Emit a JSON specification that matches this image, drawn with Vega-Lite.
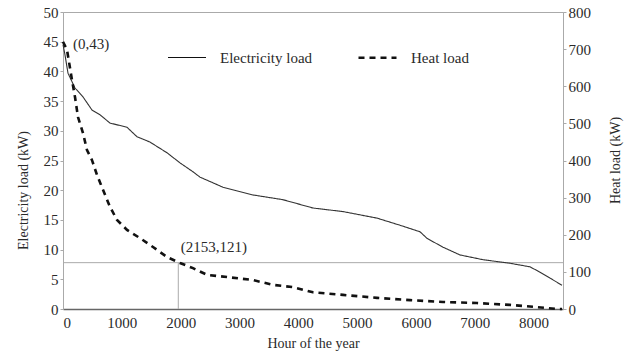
{
  "$schema": "https://vega.github.io/schema/vega-lite/v6.json",
  "width": 500,
  "height": 297,
  "autosize": {"type": "none"},
  "padding": {"left": 63, "top": 12, "right": 67, "bottom": 47},
  "background": "white",
  "config": {
    "font": "Liberation Serif",
    "view": {"stroke": "#aaa", "strokeWidth": 1},
    "axis": {
      "grid": false,
      "labelFont": "Liberation Serif",
      "titleFont": "Liberation Serif",
      "labelFontSize": 15,
      "titleFontSize": 14,
      "titleFontWeight": "normal",
      "labelColor": "#2a2a2a",
      "titleColor": "#2a2a2a",
      "domainColor": "#aaa",
      "tickColor": "#aaa",
      "tickSize": 3
    },
    "legend": {
      "labelFont": "Liberation Serif",
      "labelFontSize": 15,
      "labelColor": "#2a2a2a"
    }
  },
  "datasets": {
    "elec": [
      {"hour": 0, "load": 44.5, "series": "Electricity load"},
      {"hour": 30, "load": 43, "series": "Electricity load"},
      {"hour": 85, "load": 39.7, "series": "Electricity load"},
      {"hour": 204, "load": 37.2, "series": "Electricity load"},
      {"hour": 340, "load": 35.7, "series": "Electricity load"},
      {"hour": 493, "load": 33.5, "series": "Electricity load"},
      {"hour": 629, "load": 32.7, "series": "Electricity load"},
      {"hour": 799, "load": 31.3, "series": "Electricity load"},
      {"hour": 1088, "load": 30.6, "series": "Electricity load"},
      {"hour": 1258, "load": 29.0, "series": "Electricity load"},
      {"hour": 1479, "load": 28.1, "series": "Electricity load"},
      {"hour": 1768, "load": 26.3, "series": "Electricity load"},
      {"hour": 1989, "load": 24.6, "series": "Electricity load"},
      {"hour": 2210, "load": 23.1, "series": "Electricity load"},
      {"hour": 2329, "load": 22.2, "series": "Electricity load"},
      {"hour": 2720, "load": 20.5, "series": "Electricity load"},
      {"hour": 3230, "load": 19.2, "series": "Electricity load"},
      {"hour": 3740, "load": 18.4, "series": "Electricity load"},
      {"hour": 4250, "load": 17.0, "series": "Electricity load"},
      {"hour": 4760, "load": 16.4, "series": "Electricity load"},
      {"hour": 5338, "load": 15.3, "series": "Electricity load"},
      {"hour": 5729, "load": 14.1, "series": "Electricity load"},
      {"hour": 6069, "load": 13.0, "series": "Electricity load"},
      {"hour": 6188, "load": 11.9, "series": "Electricity load"},
      {"hour": 6460, "load": 10.4, "series": "Electricity load"},
      {"hour": 6749, "load": 9.1, "series": "Electricity load"},
      {"hour": 7140, "load": 8.3, "series": "Electricity load"},
      {"hour": 7599, "load": 7.7, "series": "Electricity load"},
      {"hour": 7939, "load": 7.1, "series": "Electricity load"},
      {"hour": 8109, "load": 6.2, "series": "Electricity load"},
      {"hour": 8279, "load": 5.2, "series": "Electricity load"},
      {"hour": 8483, "load": 4.0, "series": "Electricity load"}
    ],
    "heat": [
      {"hour": 0, "load": 720, "series": "Heat load"},
      {"hour": 68, "load": 698, "series": "Heat load"},
      {"hour": 153, "load": 617, "series": "Heat load"},
      {"hour": 204, "load": 571, "series": "Heat load"},
      {"hour": 255, "load": 517, "series": "Heat load"},
      {"hour": 340, "load": 474, "series": "Heat load"},
      {"hour": 408, "load": 428, "series": "Heat load"},
      {"hour": 493, "load": 401, "series": "Heat load"},
      {"hour": 578, "load": 361, "series": "Heat load"},
      {"hour": 680, "load": 321, "series": "Heat load"},
      {"hour": 799, "load": 275, "series": "Heat load"},
      {"hour": 918, "load": 240, "series": "Heat load"},
      {"hour": 1088, "load": 213, "series": "Heat load"},
      {"hour": 1309, "load": 191, "series": "Heat load"},
      {"hour": 1530, "load": 167, "series": "Heat load"},
      {"hour": 1768, "load": 140, "series": "Heat load"},
      {"hour": 1989, "load": 124, "series": "Heat load"},
      {"hour": 2210, "load": 110, "series": "Heat load"},
      {"hour": 2448, "load": 92, "series": "Heat load"},
      {"hour": 2788, "load": 86, "series": "Heat load"},
      {"hour": 3230, "load": 78, "series": "Heat load"},
      {"hour": 3570, "load": 65, "series": "Heat load"},
      {"hour": 3910, "load": 59, "series": "Heat load"},
      {"hour": 4250, "load": 45, "series": "Heat load"},
      {"hour": 4760, "load": 38, "series": "Heat load"},
      {"hour": 5338, "load": 30, "series": "Heat load"},
      {"hour": 5899, "load": 24, "series": "Heat load"},
      {"hour": 6460, "load": 19, "series": "Heat load"},
      {"hour": 7038, "load": 16, "series": "Heat load"},
      {"hour": 7599, "load": 11, "series": "Heat load"},
      {"hour": 8058, "load": 5, "series": "Heat load"},
      {"hour": 8398, "load": 0, "series": "Heat load"},
      {"hour": 8483, "load": 0, "series": "Heat load"}
    ],
    "marker": [
      {"hour": 1960, "load": 7.8, "base": 0}
    ],
    "notes": [
      {"hour": 170, "load": 44.6, "label": "(0,43)"},
      {"hour": 2000, "load": 10.4, "label": "(2153,121)"}
    ]
  },
  "layer": [
    {
      "data": {"name": "marker"},
      "mark": {"type": "rule", "color": "#aaa", "strokeWidth": 1},
      "encoding": {
        "y": {"field": "load", "type": "quantitative", "scale": {"domain": [0, 50]}, "axis": null}
      }
    },
    {
      "data": {"name": "marker"},
      "mark": {"type": "rule", "color": "#aaa", "strokeWidth": 1},
      "encoding": {
        "x": {"field": "hour", "type": "quantitative", "scale": {"domain": [0, 8500]}},
        "y": {"field": "base", "type": "quantitative", "scale": {"domain": [0, 50]}, "axis": null},
        "y2": {"field": "load"}
      }
    },
    {
      "data": {"name": "elec"},
      "mark": {"type": "line", "color": "#333"},
      "encoding": {
        "x": {
          "field": "hour", "type": "quantitative",
          "scale": {"domain": [0, 8500], "nice": false},
          "axis": {"values": [0, 1000, 2000, 3000, 4000, 5000, 6000, 7000, 8000], "format": "d", "ticks": false, "domainColor": "#666", "domainWidth": 1.5, "labelPadding": 6, "labelFontSize": 15, "title": "Hour of the year", "titlePadding": 6}
        },
        "y": {
          "field": "load", "type": "quantitative",
          "scale": {"domain": [0, 50], "nice": false},
          "axis": {"orient": "left", "values": [0, 5, 10, 15, 20, 25, 30, 35, 40, 45, 50], "labelPadding": 2, "title": "Electricity load (kW)", "titleAngle": -90, "titleX": -40, "titleY": 178, "titleAlign": "center", "titleBaseline": "middle"}
        },
        "strokeDash": {
          "field": "series", "type": "nominal",
          "scale": {"domain": ["Electricity load", "Heat load"], "range": [[1, 0], [6, 5]]},
          "legend": {"orient": "none", "legendX": 104, "legendY": 25, "direction": "horizontal", "title": null, "symbolType": "stroke", "symbolSize": 1444, "symbolStrokeColor": "#111", "labelOffset": 13, "columnPadding": 40, "padding": 0, "labelLimit": 300}
        },
        "strokeWidth": {
          "field": "series", "type": "nominal",
          "scale": {"domain": ["Electricity load", "Heat load"], "range": [1.1, 2.6]},
          "legend": {"orient": "none", "legendX": 104, "legendY": 25, "direction": "horizontal", "title": null, "symbolType": "stroke", "symbolSize": 1444, "symbolStrokeColor": "#111", "labelOffset": 13, "columnPadding": 40, "padding": 0, "labelLimit": 300}
        }
      }
    },
    {
      "data": {"name": "heat"},
      "mark": {"type": "line", "color": "#111"},
      "encoding": {
        "x": {"field": "hour", "type": "quantitative", "scale": {"domain": [0, 8500], "nice": false}},
        "y": {
          "field": "load", "type": "quantitative",
          "scale": {"domain": [0, 800], "nice": false},
          "axis": {"orient": "right", "values": [0, 100, 200, 300, 400, 500, 600, 700, 800], "labelPadding": 2, "title": "Heat load (kW)", "titleAngle": -90, "titleX": 52, "titleY": 148, "titleAlign": "center", "titleBaseline": "middle"}
        },
        "strokeDash": {"field": "series", "type": "nominal"},
        "strokeWidth": {"field": "series", "type": "nominal"}
      }
    },
    {
      "data": {"name": "notes"},
      "mark": {"type": "text", "align": "left", "baseline": "middle", "fontSize": 15, "font": "Liberation Serif", "color": "#2a2a2a"},
      "encoding": {
        "x": {"field": "hour", "type": "quantitative", "scale": {"domain": [0, 8500]}},
        "y": {"field": "load", "type": "quantitative", "scale": {"domain": [0, 50]}, "axis": null},
        "text": {"field": "label", "type": "nominal"}
      }
    }
  ],
  "resolve": {"scale": {"y": "independent"}}
}
